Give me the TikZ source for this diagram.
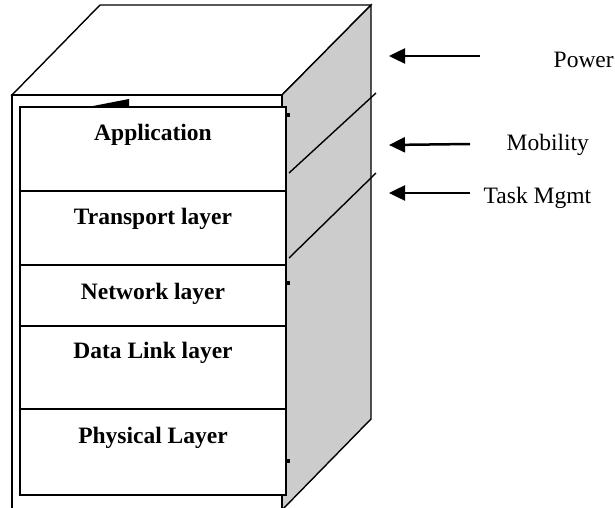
\documentclass[tikz,border=0pt]{standalone}
\usepackage{fontspec}
\setmainfont{Liberation Serif}
\usepackage{tikz}
\usetikzlibrary{arrows.meta, calc}
\tikzset{
	layer/.style={font=\fontsize{23.5}{28}\selectfont\bfseries, anchor=base, inner sep=0pt},
	side/.style={font=\fontsize{23.5}{28}\selectfont, anchor=base west, inner sep=0pt},
	pointer/.style={line width=2.5pt, -{Triangle[length=16pt, width=15pt]}}
}
\begin{document}
\begin{tikzpicture}[x=1pt, y=-1pt, line width=1.4pt, line join=miter]
	\useasboundingbox (0,0) rectangle (615,508);

	\coordinate (FTL) at (12,95);
	\coordinate (FTR) at (282,95);
	\coordinate (BTL) at (100,5);
	\coordinate (BTR) at (371,5);
	\coordinate (BBR) at (371,419);
	\coordinate (FBR) at (282,510);
	\coordinate (FBL) at (12,510);

	% box
	\filldraw[fill=white] (FTL) -- (BTL) -- (BTR) -- (FTR) -- cycle;
	\filldraw[fill=gray!40] (FTR) -- (BTR) -- (BBR) -- (FBR) -- cycle;
	\filldraw[fill=white] (FTL) -- (FTR) -- (FBR) -- (FBL) -- cycle;

	% stack
	\filldraw[fill=white] (20,107) rectangle (286,495);
	\foreach \y in {191, 265, 326, 409}
		\draw (20,\y) -- (286,\y);

	\fill (93,106) -- (129,99) -- (129,106) -- cycle;
	\foreach \y in {113, 281, 459}
		\fill (286,\y) rectangle +(4,4);

	\draw (289,173) -- (376,93);
	\draw (289,258) -- (376,173);

	\node[layer] (app) at (153,140) {Application};
	\node[layer] (trans) at (153,224) {Transport layer};
	\node[layer] (net) at (153,299) {Network layer};
	\node[layer] (dlink) at (153,358) {Data Link layer};
	\node[layer] (phys) at (153,443) {Physical Layer};

	\node[side] (power) at (553,68) {Power};
	\node[side] (mob) at (506,150) {Mobility};
	\node[side] (task) at (483,203) {Task Mgmt};

	\coordinate (p1) at (480,56);
	\coordinate (p2) at (389,56);
	\coordinate (m1) at (470,144);
	\coordinate (m2) at (389,145);
	\coordinate (t1) at (470,193);
	\coordinate (t2) at (389,193);
	\draw[pointer] (p1) -- (p2);
	\draw[pointer] (m1) -- (m2);
	\draw[pointer] (t1) -- (t2);

\end{tikzpicture}
\end{document}
